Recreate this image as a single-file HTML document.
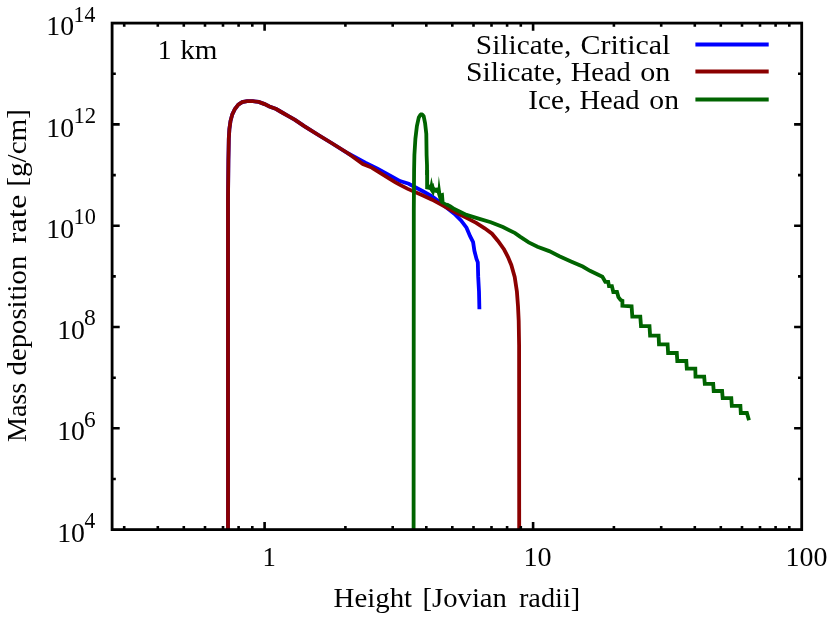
<!DOCTYPE html>
<html><head><meta charset="utf-8"><title>Mass deposition rate</title>
<style>
html,body{margin:0;padding:0;background:#fff;}
body{width:830px;height:617px;overflow:hidden;}
svg{display:block;}
text{font-family:"Liberation Serif",serif;fill:#000;font-kerning:none;font-variant-ligatures:none;white-space:pre;}
</style></head><body>
<svg width="830" height="617" viewBox="0 0 830 617">
<rect width="830" height="617" fill="#fff"/>
<g fill="none" stroke-width="3.8" stroke-linejoin="miter" stroke-miterlimit="10" stroke-linecap="butt">
<path stroke="#0000ff" d="M228.0,529.5 L228.0,200.0 L228.4,160.0 L228.6,150.0 L228.8,138.6 L229.4,128.9 L230.5,121.1 L232.3,114.3 L234.9,109.0 L238.3,104.6 L242.2,102.1 L247.1,101.2 L252.9,101.2 L258.7,101.9 L264.6,104.1 L269.4,106.5 L276.2,109.0 L282.1,112.5 L288.9,116.4 L295.0,119.9 L304.6,126.3 L319.2,135.5 L332.3,143.5 L348.3,153.5 L365.8,162.9 L377.5,168.8 L392.0,176.7 L400.0,181.1 L408.7,183.7 L422.4,191.0 L432.1,196.4 L437.3,200.2 L445.8,207.0 L454.3,213.7 L461.0,220.4 L466.5,227.7 L470.1,236.2 L473.1,242.2 L474.4,250.8 L476.5,259.0 L477.8,262.3 L478.2,276.9 L479.0,291.5 L479.4,309.3"/>
<path stroke="#8b0000" d="M228.0,529.5 L228.0,200.0 L228.4,160.0 L228.6,150.0 L228.8,138.6 L229.4,128.9 L230.5,121.1 L232.3,114.3 L234.9,109.0 L238.3,104.6 L242.2,102.1 L247.1,101.2 L252.9,101.2 L258.7,101.9 L264.6,104.1 L269.4,106.5 L276.2,109.0 L282.1,112.5 L288.9,116.4 L295.0,119.9 L304.6,126.3 L319.2,135.5 L332.3,143.5 L348.3,153.5 L362.9,164.0 L371.7,167.6 L383.3,174.9 L395.0,182.2 L400.0,184.9 L407.8,188.9 L422.4,195.3 L432.1,199.7 L440.8,204.4 L454.3,211.9 L466.5,217.9 L476.2,222.8 L484.7,228.3 L492.0,233.7 L498.0,241.0 L504.1,249.5 L508.0,257.0 L511.3,265.0 L514.7,276.9 L516.9,291.5 L518.0,306.1 L518.7,320.7 L519.1,345.0 L519.2,529.5"/>
<path stroke="#006400" d="M413.6,529.5 L413.8,210.0 L414.1,170.0 L414.4,155.0 L415.4,138.7 L416.9,126.1 L418.8,117.4 L420.3,114.9 L421.0,114.3 L421.8,114.3 L422.6,114.9 L423.7,116.4 L425.1,123.2 L426.3,133.9 L426.6,155.0 L427.0,165.0 L427.1,175.0"/>
<path stroke="#006400" d="M446.5,204.3 L450.0,206.2 L454.3,209.0 L466.5,214.9 L478.6,218.6 L490.8,222.2 L502.9,227.1 L515.1,233.1 L520.0,236.6 L528.7,242.4 L537.5,246.8 L549.2,251.1 L559.4,256.2 L571.0,261.4 L582.7,266.5 L590.0,270.8 L602.4,276.7 L605.3,281.8 L608.2,281.8 L609.0,286.1 L611.9,286.1 L613.3,292.0 L617.0,292.0 L618.4,297.1 L620.6,300.0 L622.4,300.7 L622.4,305.8 L631.6,306.4 L632.3,316.6 L640.3,316.6 L641.0,326.1 L649.5,326.1 L650.1,335.6 L658.6,335.6 L659.0,344.3 L667.6,344.3 L668.1,353.0 L676.8,353.0 L677.3,361.0 L686.3,361.0 L686.8,368.7 L695.3,368.7 L695.5,376.6 L704.2,376.6 L704.8,383.8 L713.2,383.8 L713.7,391.0 L722.1,391.0 L722.7,398.2 L731.3,398.2 L731.8,405.9 L740.4,405.9 L740.8,413.0 L746.9,413.0 L749.0,420.3"/>
<path fill="#006400" stroke="none" d="M425.2,170.0 L429.1,170.0 L429.1,184.5 L429.9,184.8 L431.4,177.0 L432.8,183.7 L433.4,182.8 L434.5,186.9 L435.4,187.8 L437.8,187.6 L438.8,176.1 L441.2,193.3 L443.7,192.4 L444.5,201.8 L450.0,204.4 L450.0,208.0 L440.7,203.5 L438.9,200.0 L436.9,193.0 L434.5,192.4 L433.7,196.5 L429.6,190.1 L427.8,189.5 L425.2,188.9Z"/>
<path stroke="#0000ff" stroke-width="4" d="M695.4,44.5 H768.7"/>
<path stroke="#8b0000" stroke-width="4" d="M695.4,71.6 H768.7"/>
<path stroke="#006400" stroke-width="4" d="M695.4,99.4 H768.7"/>
</g>
<path fill="none" stroke="#000" stroke-width="2.6" d="M124.2,529.6 v-3.7 M124.2,23.1 v3.7 M157.8,529.6 v-3.7 M157.8,23.1 v3.7 M183.8,529.6 v-3.7 M183.8,23.1 v3.7 M205.0,529.6 v-3.7 M205.0,23.1 v3.7 M223.0,529.6 v-3.7 M223.0,23.1 v3.7 M238.6,529.6 v-3.7 M238.6,23.1 v3.7 M252.3,529.6 v-3.7 M252.3,23.1 v3.7 M264.6,529.6 v-7.6 M264.6,23.1 v7.6 M345.4,529.6 v-3.7 M345.4,23.1 v3.7 M392.7,529.6 v-3.7 M392.7,23.1 v3.7 M426.3,529.6 v-3.7 M426.3,23.1 v3.7 M452.3,529.6 v-3.7 M452.3,23.1 v3.7 M473.5,529.6 v-3.7 M473.5,23.1 v3.7 M491.5,529.6 v-3.7 M491.5,23.1 v3.7 M507.1,529.6 v-3.7 M507.1,23.1 v3.7 M520.8,529.6 v-3.7 M520.8,23.1 v3.7 M533.1,529.6 v-7.6 M533.1,23.1 v7.6 M613.9,529.6 v-3.7 M613.9,23.1 v3.7 M661.2,529.6 v-3.7 M661.2,23.1 v3.7 M694.8,529.6 v-3.7 M694.8,23.1 v3.7 M720.8,529.6 v-3.7 M720.8,23.1 v3.7 M742.0,529.6 v-3.7 M742.0,23.1 v3.7 M760.0,529.6 v-3.7 M760.0,23.1 v3.7 M775.6,529.6 v-3.7 M775.6,23.1 v3.7 M789.3,529.6 v-3.7 M789.3,23.1 v3.7 M112.1,479.0 h3.7 M801.7,479.0 h-3.7 M112.1,428.3 h7.6 M801.7,428.3 h-7.6 M112.1,377.7 h3.7 M801.7,377.7 h-3.7 M112.1,327.0 h7.6 M801.7,327.0 h-7.6 M112.1,276.4 h3.7 M801.7,276.4 h-3.7 M112.1,225.7 h7.6 M801.7,225.7 h-7.6 M112.1,175.1 h3.7 M801.7,175.1 h-3.7 M112.1,124.4 h7.6 M801.7,124.4 h-7.6 M112.1,73.8 h3.7 M801.7,73.8 h-3.7"/>
<rect x="112.1" y="23.1" width="689.6" height="506.5" fill="none" stroke="#000" stroke-width="2.8"/>
<g style="opacity:0.999">
<text transform="translate(57.16,541.70) scale(1.0147,1.0000)" font-size="27.4">10</text>
<text transform="translate(84.48,528.00) scale(0.9435,1.0000)" font-size="22.8">4</text>
<text transform="translate(57.16,440.40) scale(1.0147,1.0000)" font-size="27.4">10</text>
<text transform="translate(83.89,426.70) scale(1.0266,1.0000)" font-size="22.8">6</text>
<text transform="translate(57.16,339.10) scale(1.0147,1.0000)" font-size="27.4">10</text>
<text transform="translate(84.00,325.40) scale(1.0348,1.0000)" font-size="22.8">8</text>
<text transform="translate(46.31,237.80) scale(1.0126,1.0000)" font-size="27.4">10</text>
<text transform="translate(73.54,224.10) scale(0.9785,1.0000)" font-size="22.8">10</text>
<text transform="translate(46.31,136.50) scale(1.0126,1.0000)" font-size="27.4">10</text>
<text transform="translate(73.50,122.80) scale(0.9981,1.0000)" font-size="22.8">12</text>
<text transform="translate(46.31,35.20) scale(1.0126,1.0000)" font-size="27.4">10</text>
<text transform="translate(73.59,21.50) scale(0.9540,1.0000)" font-size="22.8">14</text>
<text transform="translate(262.45,566.30) scale(0.9745,1.0000)" font-size="27.4">1</text>
<text transform="translate(523.43,566.30) scale(1.0272,1.0000)" font-size="27.4">10</text>
<text transform="translate(785.54,566.30) scale(1.0200,1.0000)" font-size="27.4">100</text>
<text transform="translate(333.57,606.80) scale(1.0540,1.0000)" font-size="27.4">Height</text>
<text transform="translate(422.57,606.80) scale(1.0459,1.0000)" font-size="27.4">[Jovian</text>
<text transform="translate(518.93,606.80) scale(1.0325,1.0000)" font-size="27.4">radii]</text>
<text transform="translate(157.68,58.90) scale(1.0056,1.0000)" font-size="27.4">1</text>
<text transform="translate(180.25,58.90) scale(1.0627,1.0000)" font-size="27.4">km</text>
<text transform="translate(475.84,53.80) scale(1.0718,1.0000)" font-size="27.4">Silicate,</text>
<text transform="translate(580.47,53.80) scale(1.0956,1.0000)" font-size="27.4">Critical</text>
<text transform="translate(466.01,80.80) scale(1.0835,1.0000)" font-size="27.4">Silicate,</text>
<text transform="translate(570.68,80.80) scale(1.0408,1.0000)" font-size="27.4">Head</text>
<text transform="translate(640.25,80.80) scale(1.0986,1.0000)" font-size="27.4">on</text>
<text transform="translate(528.24,108.60) scale(1.0670,1.0000)" font-size="27.4">Ice,</text>
<text transform="translate(579.38,108.60) scale(1.0426,1.0000)" font-size="27.4">Head</text>
<text transform="translate(649.37,108.60) scale(1.0832,1.0000)" font-size="27.4">on</text>
<text transform="translate(25.60,442.01) rotate(-90) scale(1.0237,1.0000)" font-size="27.4">Mass</text>
<text transform="translate(25.60,375.44) rotate(-90) scale(1.0492,1.0000)" font-size="27.4">deposition</text>
<text transform="translate(25.60,243.55) rotate(-90) scale(1.1931,1.0000)" font-size="27.4">rate</text>
<text transform="translate(25.60,186.77) rotate(-90) scale(1.0657,1.0000)" font-size="27.4">[g/cm]</text>
</g>
</svg>
</body></html>
